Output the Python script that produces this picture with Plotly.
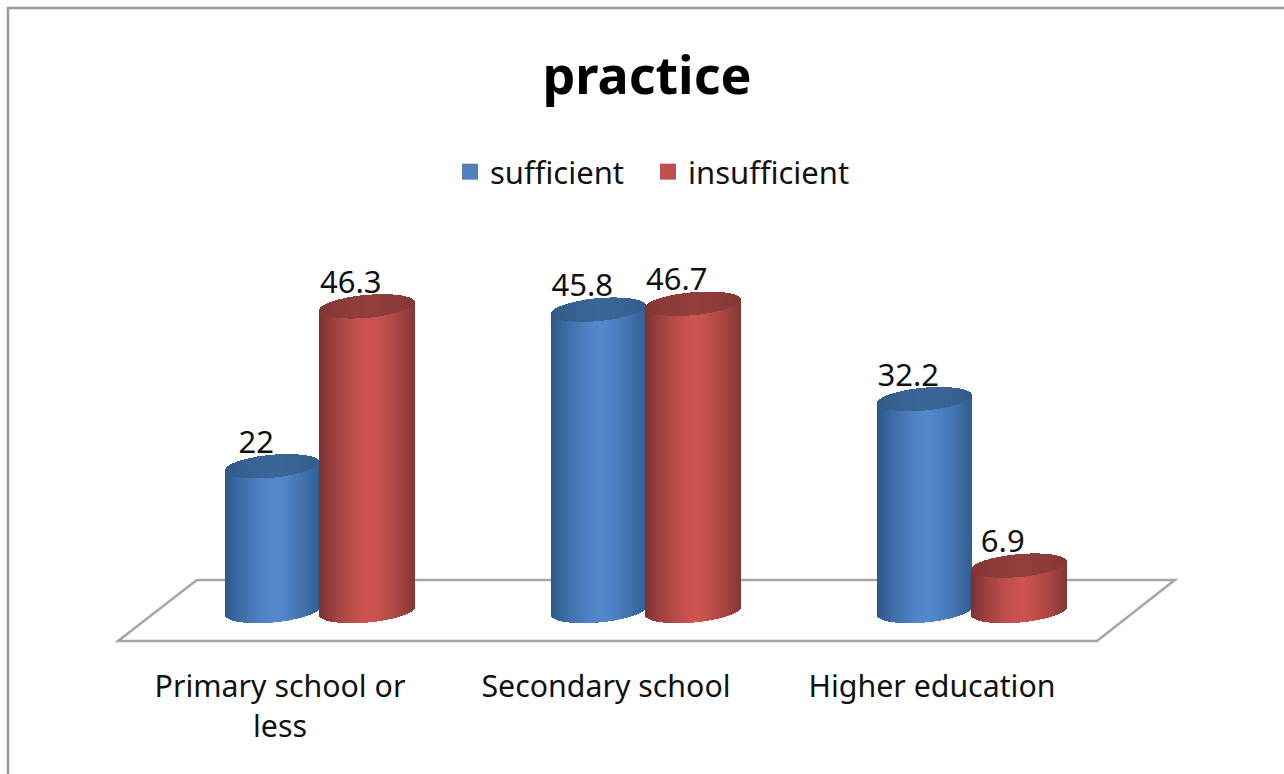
import numpy as np
import plotly.graph_objects as go

categories = ["Primary school or<br>less", "Secondary school", "Higher education"]
sufficient = [22, 45.8, 32.2]
insufficient = [46.3, 46.7, 6.9]
title_text = "practice"

W, H = 1284, 774
AXIS_BOTTOM = 650
X_UNIT, X_ZERO = 326.0, 280.0
Y_UNIT, Y_ZERO = 6.58, 611.0
FONT = "Noto Sans"
TXT = "#111111"

TILT = 4.0 / Y_UNIT
ELL = 11.5 / Y_UNIT
N = 96


def mix(a, b, t):
    return "rgb(%d,%d,%d)" % tuple(round(p + (q - p) * t) for p, q in zip(a, b))


def shade(u, dark, light):
    # horizontal cylinder shading: dark rims, lightest just left of centre
    d = abs(u - 0.05) / 1.05
    t = max(0.0, 1 - d ** 1.5)
    return mix(dark, light, t)


def cylinder_strips(centres, values, half, dark, light, cap_dark, cap_light):
    xs, bases, heights, cols = [], [], [], []
    us = (np.arange(N) + 0.5) / N * 2 - 1
    for c, v in zip(centres, values):
        for u in us:
            s = float(np.sqrt(1 - u * u))
            low0 = TILT * u - ELL * s
            lowv = v + TILT * u - ELL * s
            upv = v + TILT * u + ELL * s
            xs.append(c + u * half)
            bases.append(low0)
            heights.append(lowv - low0)
            cols.append(shade(u, dark, light))
            xs.append(c + u * half)
            bases.append(lowv)
            heights.append(upv - lowv)
            cols.append(shade(u, cap_dark, cap_light))
    return xs, bases, heights, cols


positions = np.arange(len(categories), dtype=float)
blue_x = positions - 0.023
red_x = positions + 0.267

fig = go.Figure()

series = [
    ("sufficient", sufficient, blue_x, 0.1426, "#4f81bd", (44, 88, 136), (83, 136, 206), (50, 90, 135), (58, 102, 152)),
    ("insufficient", insufficient, red_x, 0.147, "#c0504d", (122, 50, 48), (205, 84, 80), (130, 54, 52), (146, 62, 59)),
]

for name, vals, cx, half, col, dark, light, cd, cl in series:
    fig.add_trace(go.Bar(x=cx, y=vals, width=0.15, marker=dict(color=col, line=dict(width=0)),
                         name=name, showlegend=False, hoverinfo="skip"))
    xs, bases, heights, cols = cylinder_strips(cx, vals, half, dark, light, cd, cl)
    fig.add_trace(go.Bar(x=xs, y=heights, base=bases, width=2 * half / N * 1.05,
                         marker=dict(color=cols, line=dict(width=0)),
                         showlegend=False, hoverinfo="skip"))

for name, vals, cx, half, col, *_ in series:
    fig.add_trace(go.Scatter(x=cx - 0.05, y=[v + 3.2 for v in vals], mode="text",
                             text=[str(v) for v in vals], textposition="middle center",
                             textfont=dict(family=FONT, size=31, color=TXT),
                             showlegend=False, hoverinfo="skip"))

for (name, vals, cx, half, col, *_), legend_id in zip(series, ["legend", "legend2"]):
    fig.add_trace(go.Scatter(x=[None], y=[None], mode="markers", name=name, legend=legend_id,
                             marker=dict(symbol="square", size=18, color=col, line=dict(width=0))))

floor_front = (Y_ZERO - 641) / Y_UNIT
floor_back = (Y_ZERO - 580) / Y_UNIT
floor_path = "M {} {} L {} {} L {} {} L {} {} Z".format(
    positions[0] - 0.497, floor_front, positions[0] - 0.255, floor_back,
    positions[-1] + 0.745, floor_back, positions[-1] + 0.506, floor_front)

px = lambda p: p / W
py = lambda p: (AXIS_BOTTOM - p) / AXIS_BOTTOM

legend_style = dict(orientation="h", y=py(172), xanchor="left", yanchor="middle",
                    font=dict(family=FONT, size=31, color=TXT), itemwidth=30,
                    bgcolor="rgba(0,0,0,0)")

fig.update_layout(
    width=W, height=H,
    margin=dict(l=0, r=0, t=0, b=H - AXIS_BOTTOM, pad=0, autoexpand=False),
    paper_bgcolor="white", plot_bgcolor="white",
    barmode="overlay", bargap=0,
    title=dict(text=title_text, x=647 / W, y=1 - 76 / H, xanchor="center", yanchor="middle",
               xref="paper", yref="container",
               font=dict(family=FONT, size=52, color="#000000", weight="bold")),
    legend=dict(x=px(450), **legend_style),
    legend2=dict(x=px(648), **legend_style),
    xaxis=dict(range=[-X_ZERO / X_UNIT, (W - X_ZERO) / X_UNIT], tickvals=list(positions), ticktext=categories,
               showgrid=False, zeroline=False, showline=False, ticks="",
               tickfont=dict(family=FONT, size=30.3, color=TXT), ticklabelstandoff=16),
    yaxis=dict(range=[(Y_ZERO - AXIS_BOTTOM) / Y_UNIT, Y_ZERO / Y_UNIT], visible=False),
    shapes=[
        dict(type="path", path=floor_path, xref="x", yref="y", layer="below",
             line=dict(color="#a6a6a6", width=2.5), fillcolor="white"),
        dict(type="path", xref="paper", yref="paper", layer="below",
             path="M {} {} L {} {} L {} {}".format(px(8), py(774), px(8), py(8), px(1284), py(8)),
             line=dict(color="#9a9a9a", width=2.5)),
    ],
)

fig.write_html("out.html", config=dict(displayModeBar=False),
               post_script="document.body.style.margin='0';")
